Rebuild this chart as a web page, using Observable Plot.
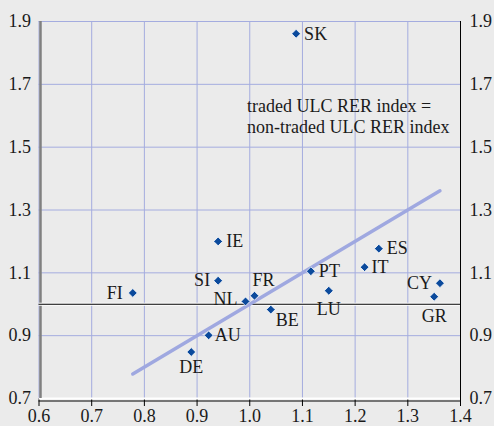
<!DOCTYPE html>
<html><head><meta charset="utf-8">
<script src="https://cdn.jsdelivr.net/npm/d3@7"></script>
<script src="https://cdn.jsdelivr.net/npm/@observablehq/plot@0.6"></script>
<style>html,body{margin:0;padding:0;background:#ebebeb;}</style>
</head><body><div id="chart"></div>
<script>
// Data
const countries = ["SK","IE","SI","FI","NL","AU","DE","FR","BE","PT","LU","IT","ES","CY","GR"];
const xIndex = [1.088,0.940,0.940,0.778,0.992,0.922,0.889,1.009,1.040,1.116,1.150,1.218,1.245,1.361,1.350];
const yIndex = [1.861,1.200,1.075,1.036,1.009,0.901,0.848,1.027,0.983,1.105,1.043,1.118,1.177,1.067,1.024];
const xTicks = [0.6,0.7,0.8,0.9,1.0,1.1,1.2,1.3,1.4];
const yTicks = [0.7,0.9,1.1,1.3,1.5,1.7,1.9];
const annotation = "traded ULC RER index =\nnon-traded ULC RER index";

const data = countries.map((c, i) => ({c, x: xIndex[i], y: yIndex[i]}));
const ext = d3.extent(xIndex);
const eqLine = [{x: ext[0], y: ext[0]}, {x: ext[1], y: ext[1]}];

// label placement: [textAnchor, dx, dy]
const place = {
  SK:["start",8,0], IE:["start",8,0], AU:["start",6,0], PT:["start",8,0], IT:["start",7,0], ES:["start",8,0],
  SI:["end",-8,0], FI:["end",-10,0], NL:["end",-8,-2], CY:["end",-8,0],
  DE:["middle",0,15], LU:["middle",0,18], GR:["middle",0,20],
  FR:["start",-2,-16], BE:["start",5,11]
};

const font = "Liberation Serif, Times New Roman, serif";
const fmt = d => d.toFixed(1);
const grid = "#a4acdf";

const labelMarks = data.map(d => {
  const [a, dx, dy] = place[d.c];
  return Plot.text([d], {x: "x", y: "y", text: "c", textAnchor: a, dx, dy, fill: "#1a1a1a", fontSize: 18});
});

const chart = Plot.plot({
  width: 494,
  height: 426,
  marginTop: 21,
  marginRight: 34,
  marginBottom: 28,
  marginLeft: 38.5,
  style: {background: "#ebebeb", fontFamily: font, fontSize: "18px", color: "#1a1a1a"},
  x: {domain: [0.6, 1.4]},
  y: {domain: [0.7, 1.9]},
  marks: [
    Plot.gridX(xTicks, {stroke: grid, strokeOpacity: 1}),
    Plot.gridY(yTicks, {stroke: grid, strokeOpacity: 1}),
    Plot.axisX(xTicks, {tickSize: 8, tickPadding: 3, tickFormat: fmt, stroke: "black", fontSize: 18, label: null}),
    Plot.axisY(yTicks, {anchor: "left", tickSize: 0, tickPadding: 8, tickFormat: fmt, fontSize: 18, label: null}),
    Plot.axisY(yTicks, {anchor: "right", tickSize: 0, tickPadding: 9, tickFormat: fmt, fontSize: 18, label: null}),
    Plot.ruleY([0.7], {stroke: "white", strokeWidth: 2}),
    Plot.ruleY([0.7], {stroke: "black", strokeWidth: 1, dy: 2.5}),
    Plot.ruleX([0.6], {stroke: "#808080", strokeWidth: 2.5, dx: 1.5}),
    Plot.ruleX([1.4], {stroke: "black", strokeWidth: 1}),
    Plot.ruleY([1.0], {stroke: "white", strokeWidth: 3}),
    Plot.ruleY([1.0], {stroke: "black", strokeWidth: 1.2}),
    Plot.line(eqLine, {x: "x", y: "y", stroke: "#9fa8e0", strokeWidth: 3.5}),
    Plot.text([annotation], {x: 0.995, y: 1.6, text: d => d, textAnchor: "start", lineHeight: 1.17, fontSize: 18, fill: "#1a1a1a"}),
    ...labelMarks,
    Plot.dot(data, {x: "x", y: "y", symbol: "diamond2", r: 4, fill: "#0b4a9c", stroke: "white", strokeWidth: 0.8})
  ]
});
document.getElementById("chart").appendChild(chart);
</script>
</body></html>
